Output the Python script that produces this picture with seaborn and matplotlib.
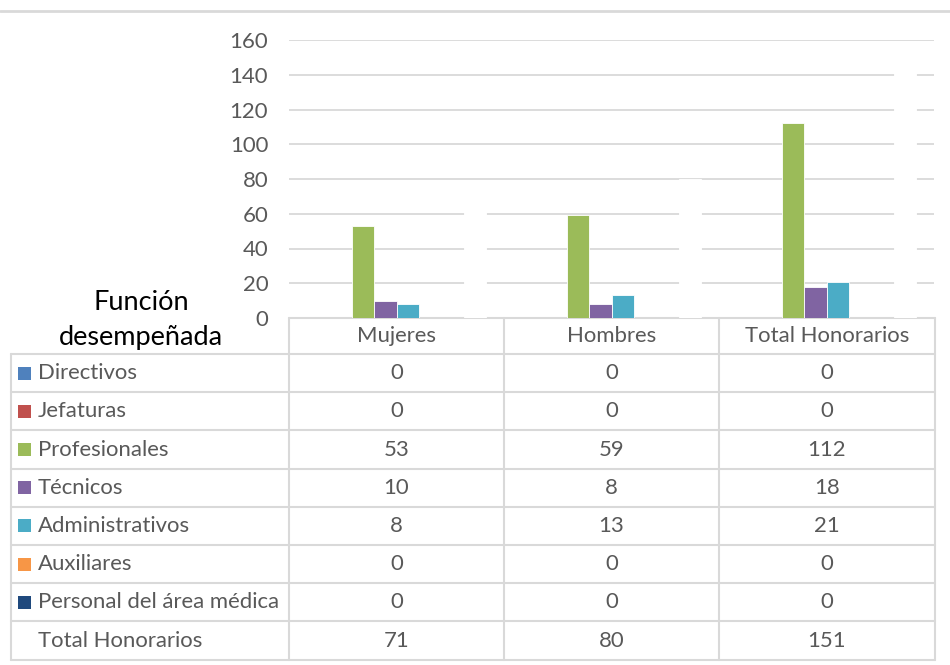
import numpy as np
import pandas as pd
import matplotlib.pyplot as plt
import seaborn as sns
from matplotlib.patches import Rectangle

# Datos del gráfico
categorias = ['Mujeres', 'Hombres', 'Total Honorarios']
funciones = ['Directivos', 'Jefaturas', 'Profesionales', 'Técnicos',
             'Administrativos', 'Auxiliares', 'Personal del área médica',
             'Total Honorarios']
directivos = [0, 0, 0]
jefaturas = [0, 0, 0]
profesionales = [53, 59, 112]
tecnicos = [10, 8, 18]
administrativos = [8, 13, 21]
auxiliares = [0, 0, 0]
personal_medico = [0, 0, 0]
total_honorarios = [71, 80, 151]
colores = ['#4F81BD', '#C0504D', '#9BBB59', '#8064A2', '#4BACC6',
           '#F79646', '#1F497D', '#FFFFFF']

valores = [directivos, jefaturas, profesionales, tecnicos, administrativos,
           auxiliares, personal_medico, total_honorarios]

filas = []
for funcion, serie in zip(funciones, valores):
    for cat, v in zip(categorias, serie):
        filas.append({'categoria': cat, 'funcion': funcion, 'valor': v})
df = pd.DataFrame(filas)

sns.set_theme(style='white')
plt.rcParams['font.family'] = ['Lato', 'DejaVu Sans']
gris_texto = '#595959'
gris_linea = '#D9D9D9'
fs = 15.9

W, H = 950, 665
fig = plt.figure(figsize=(W / 100, H / 100), dpi=100)

# Ejes de la tabla en coordenadas de píxel
tax = fig.add_axes([0, 0, 1, 1])
tax.set_xlim(0, W)
tax.set_ylim(H, 0)
tax.axis('off')

# Ejes del gráfico de barras
x0, x1 = 289, 934
y0, y1 = 318, 40
ax = fig.add_axes([x0 / W, 1 - y0 / H, (x1 - x0) / W, (y0 - y1) / H])
ax.set_facecolor('none')
sns.barplot(data=df, x='categoria', y='valor', hue='funcion',
            order=categorias, hue_order=funciones, palette=colores,
            width=0.837, gap=0, saturation=1, edgecolor='white',
            linewidth=0.6, legend=False, ax=ax)
ax.set_xlim(-0.5, 2.5)
ax.set_ylim(0, 160)
ax.set_yticks(range(0, 161, 20))
ax.set_axisbelow(True)
ax.yaxis.grid(True, color=gris_linea, linewidth=1.3)
ax.xaxis.grid(False)
for s in ax.spines.values():
    s.set_visible(False)
ax.set_xticklabels([])
ax.set_xlabel('')
ax.set_ylabel('')
ax.tick_params(axis='both', length=0)
ax.tick_params(axis='y', pad=15, labelsize=fs, labelcolor=gris_texto)

# Línea superior del marco
tax.plot([0, W], [11, 11], color=gris_linea, lw=2)

# Tabla de datos
col_x = [289, 504, 719, 935]
col_c = [(a + b) / 2 for a, b in zip(col_x[:-1], col_x[1:])]
fila_h = 38.2
fila_y = [354 + fila_h * i for i in range(len(funciones) + 1)]
lw_t = 1.5

tax.plot([col_x[0], col_x[-1]], [318, 318], color=gris_linea, lw=lw_t)
for yy in fila_y:
    tax.plot([11, col_x[-1]], [yy, yy], color=gris_linea, lw=lw_t)
tax.plot([11, 11], [fila_y[0], fila_y[-1]], color=gris_linea, lw=lw_t)
for xx in col_x:
    tax.plot([xx, xx], [318, fila_y[-1]], color=gris_linea, lw=lw_t)

for cat, xc in zip(categorias, col_c):
    tax.text(xc, 336, cat, ha='center', va='center', fontsize=fs,
             color=gris_texto)

for i, (funcion, serie, color) in enumerate(zip(funciones, valores, colores)):
    yc = fila_y[i] + fila_h / 2
    if funcion != 'Total Honorarios':
        tax.add_patch(Rectangle((18, yc - 6.5), 13, 13, color=color, lw=0))
    tax.text(38, yc, funcion, ha='left', va='center', fontsize=fs,
             color=gris_texto)
    for v, xc in zip(serie, col_c):
        tax.text(xc, yc, str(v), ha='center', va='center', fontsize=fs,
                 color=gris_texto)

tax.text(141, 302, 'Función', ha='center', va='center', fontsize=19.5,
         color='black')
tax.text(141, 338, 'desempeñada', ha='center', va='center', fontsize=19.5,
         color='black')

fig.savefig('out.png', dpi=100)
